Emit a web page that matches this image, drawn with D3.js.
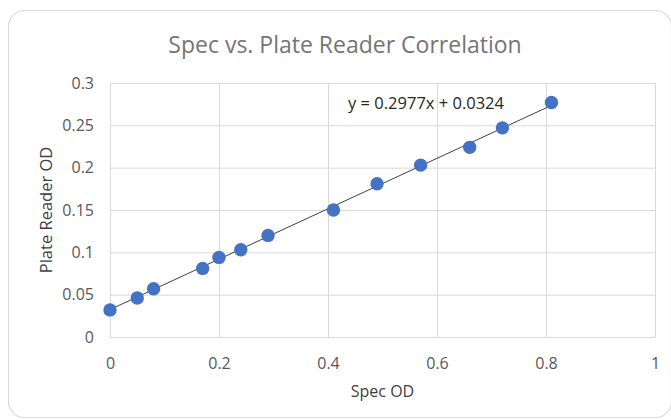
<!DOCTYPE html>
<html><head><meta charset="utf-8">
<script src="https://cdn.jsdelivr.net/npm/d3@7"></script>
<style>body{margin:0;background:#fff;} svg{display:block;}</style>
</head><body>
<svg id="chart" width="671" height="420"></svg>
<script>
const specOD = [0, 0.05, 0.08, 0.17, 0.2, 0.24, 0.29, 0.41, 0.49, 0.57, 0.66, 0.72, 0.81];
const plateOD = [0.032, 0.046, 0.057, 0.081, 0.094, 0.103, 0.120, 0.150, 0.181, 0.203, 0.224, 0.247, 0.277];
const xTicks = [0, 0.2, 0.4, 0.6, 0.8, 1];
const yTicks = [0, 0.05, 0.1, 0.15, 0.2, 0.25, 0.3];
const slope = 0.2977, intercept = 0.0324;
const title = "Spec vs. Plate Reader Correlation";
const xTitle = "Spec OD", yTitle = "Plate Reader OD";
const eqText = "y = 0.2977x + 0.0324";

const svg = d3.select("#chart");
const font = "'Open Sans', sans-serif";
svg.append("rect").attr("x",8.5).attr("y",10.5).attr("width",663).attr("height",407)
  .attr("rx",16).attr("fill","#fff").attr("stroke","#d9d9d9").attr("stroke-width",1.2);

const L=110, R=655, T=83, B=337;
const x = d3.scaleLinear().domain([0,1]).range([L,R]);
const y = d3.scaleLinear().domain([0,0.3]).range([B,T]);

// gridlines
svg.append("g").selectAll("line").data(yTicks).join("line")
  .attr("x1",L).attr("x2",R).attr("y1",d=>y(d)+0.5).attr("y2",d=>y(d)+0.5)
  .attr("stroke","#d9d9d9").attr("stroke-width",1);
svg.append("g").selectAll("line").data(xTicks).join("line")
  .attr("y1",T).attr("y2",B).attr("x1",d=>x(d)+0.5).attr("x2",d=>x(d)+0.5)
  .attr("stroke","#d9d9d9").attr("stroke-width",1);

// axes (labels only)
const xAxis = d3.axisBottom(x).tickValues(xTicks).tickSize(0).tickPadding(21).tickFormat(d3.format("~g"));
const gx = svg.append("g").attr("transform",`translate(0,${B})`).call(xAxis);
gx.select(".domain").attr("stroke","#d9d9d9");
gx.selectAll("text").attr("fill","#595959").style("font-family",font).style("font-size","16px");
const yAxis = d3.axisLeft(y).tickValues(yTicks).tickSize(0).tickPadding(16).tickFormat(d3.format("~g"));
const gy = svg.append("g").attr("transform",`translate(${L},0)`).call(yAxis);
gy.select(".domain").attr("stroke","#d9d9d9");
gy.selectAll("text").attr("fill","#595959").style("font-family",font).style("font-size","16px");

// trendline
const xs = d3.extent(specOD);
svg.append("line").attr("x1",x(xs[0])).attr("y1",y(slope*xs[0]+intercept))
  .attr("x2",x(xs[1])).attr("y2",y(slope*xs[1]+intercept))
  .attr("stroke","#404040").attr("stroke-width",1);

// points
svg.append("g").selectAll("circle").data(specOD.map((d,i)=>[d,plateOD[i]])).join("circle")
  .attr("cx",d=>x(d[0])).attr("cy",d=>y(d[1])).attr("r",6.7).attr("fill","#4472C4");

// equation
svg.append("text").attr("x",426).attr("y",109).attr("text-anchor","middle")
  .attr("fill","#262626").style("font-family",font).style("font-size","16.5px").text(eqText);

// title
svg.append("text").attr("x",345).attr("y",53).attr("text-anchor","middle")
  .attr("fill","#757575").style("font-family",font).style("font-size","23px").text(title);
// axis titles
svg.append("text").attr("x",x(0.5)).attr("y",397).attr("text-anchor","middle")
  .attr("fill","#404040").style("font-family",font).style("font-size","16px").text(xTitle);
svg.append("text").attr("transform","translate(52,210) rotate(-90)").attr("text-anchor","middle")
  .attr("fill","#404040").style("font-family",font).style("font-size","16.5px").text(yTitle);
</script>
</body></html>
